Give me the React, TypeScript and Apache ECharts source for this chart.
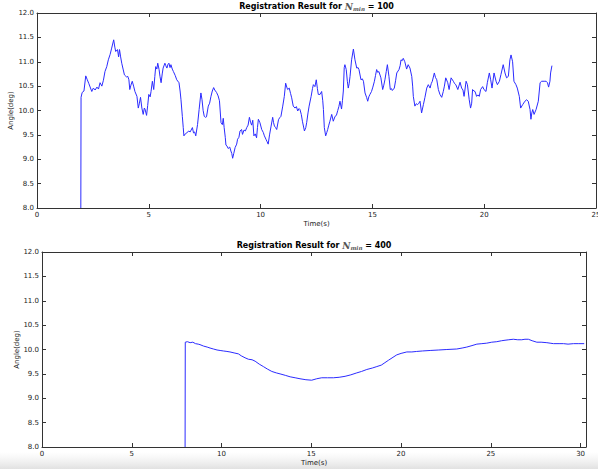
import React, { useEffect, useRef } from "react";
import * as echarts from "echarts";

// ---- Top panel (N_min = 100) ----
const topTime = [
  1.96, 1.97, 2.02, 2.1, 2.18, 2.25, 2.32, 2.45, 2.52, 2.6, 2.68, 2.75, 2.82, 2.9, 2.97, 3.04, 3.12, 3.19, 3.27, 3.34,
  3.43, 3.48, 3.52, 3.6, 3.65, 3.69, 3.74, 3.79, 3.85, 3.91, 4.0, 4.06, 4.11, 4.15, 4.2, 4.26, 4.32, 4.38, 4.47, 4.53,
  4.58, 4.63, 4.69, 4.75, 4.8, 4.83, 4.9, 4.95, 5.0, 5.06, 5.1, 5.16, 5.22, 5.27, 5.31, 5.36, 5.4, 5.46, 5.5, 5.55,
  5.6, 5.64, 5.72, 5.76, 5.81, 5.86, 5.9, 5.95, 5.99, 6.05, 6.1, 6.18, 6.25, 6.35, 6.4, 6.44, 6.5, 6.54, 6.57, 6.63,
  6.7, 6.78, 6.85, 6.95, 7.0, 7.05, 7.1, 7.18, 7.25, 7.33, 7.38, 7.43, 7.48, 7.53, 7.58, 7.66, 7.72, 7.78, 7.84, 7.9,
  7.95, 8.03, 8.1, 8.16, 8.23, 8.29, 8.33, 8.37, 8.42, 8.45, 8.5, 8.55, 8.62, 8.67, 8.71, 8.75, 8.8, 8.86, 8.93, 8.97,
  9.03, 9.08, 9.15, 9.19, 9.26, 9.32, 9.38, 9.44, 9.5, 9.55, 9.6, 9.65, 9.7, 9.76, 9.82, 9.86, 9.9, 9.97, 10.05, 10.12,
  10.17, 10.24, 10.29, 10.34, 10.4, 10.47, 10.54, 10.58, 10.62, 10.67, 10.72, 10.8, 10.85, 10.91, 10.99, 11.06, 11.12, 11.17, 11.21, 11.28,
  11.34, 11.39, 11.46, 11.54, 11.6, 11.66, 11.72, 11.76, 11.82, 11.87, 11.96, 12.02, 12.06, 12.12, 12.17, 12.26, 12.32, 12.36, 12.43, 12.49,
  12.54, 12.58, 12.66, 12.73, 12.78, 12.81, 12.85, 12.91, 12.96, 13.0, 13.05, 13.1, 13.18, 13.25, 13.33, 13.39, 13.45, 13.5, 13.55, 13.62,
  13.66, 13.7, 13.74, 13.77, 13.83, 13.88, 13.92, 13.96, 14.0, 14.07, 14.15, 14.22, 14.3, 14.36, 14.4, 14.49, 14.55, 14.6, 14.67, 14.74,
  14.79, 14.84, 14.89, 14.96, 15.02, 15.09, 15.14, 15.19, 15.24, 15.29, 15.38, 15.46, 15.51, 15.56, 15.62, 15.67, 15.74, 15.8, 15.85, 15.89,
  15.98, 16.04, 16.09, 16.19, 16.24, 16.28, 16.33, 16.38, 16.45, 16.53, 16.6, 16.68, 16.76, 16.8, 16.83, 16.9, 16.96, 17.02, 17.08, 17.13,
  17.2, 17.28, 17.35, 17.43, 17.5, 17.58, 17.63, 17.68, 17.77, 17.82, 17.88, 17.95, 18.02, 18.1, 18.17, 18.22, 18.28, 18.37, 18.43, 18.52,
  18.62, 18.68, 18.73, 18.82, 18.92, 18.99, 19.05, 19.1, 19.19, 19.25, 19.33, 19.39, 19.44, 19.48, 19.54, 19.59, 19.66, 19.72, 19.78, 19.84,
  19.93, 19.99, 20.08, 20.14, 20.23, 20.29, 20.35, 20.44, 20.53, 20.59, 20.68, 20.75, 20.85, 20.93, 21.0, 21.08, 21.15, 21.2, 21.27, 21.33,
  21.42, 21.48, 21.57, 21.63, 21.72, 21.82, 21.9, 21.97, 22.05, 22.09, 22.13, 22.17, 22.23, 22.32, 22.42, 22.5, 22.57, 22.68, 22.77, 22.83,
  22.88, 22.94, 22.97, 23.03,
];
const topAngle = [
  8.0, 10.27, 10.37, 10.4, 10.71, 10.63, 10.55, 10.39, 10.46, 10.42, 10.48, 10.44, 10.57, 10.5, 10.62, 10.8, 10.9, 11.04, 11.15, 11.28,
  11.45, 11.3, 11.21, 11.25, 11.1, 11.25, 11.1, 10.97, 10.85, 10.73, 10.69, 10.7, 10.63, 10.43, 10.52, 10.6, 10.5, 10.39, 10.29, 10.05,
  10.15, 10.27, 10.05, 9.92, 10.05, 10.03, 9.9, 10.1, 10.33, 10.28, 10.39, 10.6, 10.43, 10.7, 10.9, 10.85, 10.97, 10.84, 10.7, 10.57,
  10.75, 10.87, 10.97, 10.92, 10.87, 10.95, 10.97, 10.88, 10.94, 10.85, 10.8, 10.72, 10.63, 10.57, 10.4, 10.22, 9.88, 9.65, 9.48, 9.52,
  9.54, 9.58, 9.56, 9.65, 9.54, 9.56, 9.48, 9.71, 10.02, 10.36, 10.22, 10.0, 9.88, 9.86, 9.87, 10.09, 10.15, 10.29, 10.4, 10.47,
  10.42, 10.37, 10.3, 10.2, 9.75, 9.71, 9.84, 9.65, 9.45, 9.29, 9.27, 9.22, 9.25, 9.17, 9.12, 9.02, 9.12, 9.24, 9.31, 9.41,
  9.45, 9.58, 9.61, 9.51, 9.6, 9.58, 9.65, 9.7, 9.86, 9.76, 9.7, 9.8, 9.48, 9.52, 9.44, 9.65, 9.82, 9.75, 9.61, 9.55,
  9.48, 9.41, 9.36, 9.31, 9.5, 9.68, 9.86, 9.75, 9.68, 9.65, 9.61, 9.81, 9.85, 9.88, 10.09, 10.29, 10.56, 10.48, 10.43, 10.46,
  10.35, 10.26, 10.09, 10.05, 10.08, 9.99, 10.04, 10.02, 9.92, 9.78, 9.58, 9.65, 9.75, 9.95, 10.09, 10.29, 10.45, 10.53, 10.49, 10.63,
  10.45, 10.33, 10.33, 10.39, 10.2, 10.02, 9.65, 9.48, 9.55, 9.61, 9.7, 9.78, 9.92, 9.78, 9.88, 9.9, 10.0, 10.08, 10.19, 10.03,
  10.2, 10.4, 10.88, 10.94, 10.84, 10.6, 10.46, 10.55, 10.7, 11.04, 11.26, 11.04, 10.87, 10.88, 10.84, 10.63, 10.65, 10.6, 10.36, 10.27,
  10.19, 10.28, 10.33, 10.39, 10.48, 10.6, 10.72, 10.84, 10.78, 10.8, 10.67, 10.43, 10.52, 10.63, 10.8, 10.94, 10.7, 10.43, 10.45, 10.41,
  10.46, 10.62, 10.77, 10.84, 10.92, 11.04, 11.02, 11.07, 11.0, 10.85, 10.94, 10.87, 10.7, 10.5, 10.29, 10.09, 10.14, 10.12, 10.15, 10.19,
  9.95, 10.12, 10.27, 10.46, 10.53, 10.46, 10.55, 10.6, 10.77, 10.68, 10.63, 10.43, 10.33, 10.27, 10.39, 10.5, 10.67, 10.57, 10.43, 10.67,
  10.6, 10.55, 10.53, 10.43, 10.58, 10.46, 10.42, 10.29, 10.6, 10.53, 10.22, 10.05, 10.15, 10.43, 10.4, 10.39, 10.29, 10.32, 10.29, 10.43,
  10.49, 10.43, 10.39, 10.57, 10.77, 10.63, 10.46, 10.77, 10.6, 10.53, 10.6, 10.74, 10.94, 10.77, 10.67, 10.7, 11.04, 11.14, 11.0, 10.6,
  10.53, 10.46, 10.29, 10.05, 10.12, 10.19, 10.22, 10.19, 10.02, 9.82, 9.95, 10.02, 9.92, 10.02, 10.19, 10.57, 10.6, 10.6, 10.6, 10.57,
  10.48, 10.6, 10.77, 10.92,
];

// ---- Bottom panel (N_min = 400) ----
const bottomTime = [
  7.97, 7.98, 8.1, 8.25, 8.4, 8.55, 8.7, 8.8, 9.0, 9.2, 9.36, 9.55, 9.75, 9.92, 10.1, 10.3, 10.47, 10.7, 10.94, 11.1,
  11.31, 11.5, 11.7, 11.87, 12.1, 12.33, 12.55, 12.8, 13.05, 13.26, 13.55, 13.82, 14.1, 14.37, 14.7, 15.02, 15.3, 15.58, 15.9, 16.23,
  16.55, 16.88, 17.2, 17.53, 17.8, 18.09, 18.4, 18.65, 18.9, 19.1, 19.3, 19.55, 19.76, 20.0, 20.32, 20.6, 20.87, 21.2, 21.62, 22.1,
  22.55, 23.1, 23.4, 23.66, 23.95, 24.22, 24.5, 24.77, 25.05, 25.33, 25.6, 25.79, 26.0, 26.25, 26.5, 26.72, 26.9, 27.09, 27.3, 27.56,
  27.8, 28.12, 28.3, 28.49, 28.8, 29.05, 29.3, 29.6, 29.9, 30.2,
];
const bottomAngle = [
  8.0, 10.15, 10.16, 10.14, 10.15, 10.12, 10.11, 10.1, 10.07, 10.05, 10.03, 10.01, 9.99, 9.98, 9.97, 9.96, 9.95, 9.93, 9.91, 9.87,
  9.83, 9.8, 9.79, 9.76, 9.7, 9.65, 9.6, 9.55, 9.52, 9.5, 9.47, 9.44, 9.42, 9.4, 9.38, 9.37, 9.4, 9.42, 9.42, 9.42,
  9.43, 9.45, 9.48, 9.52, 9.55, 9.59, 9.62, 9.65, 9.68, 9.73, 9.78, 9.84, 9.89, 9.92, 9.95, 9.95, 9.96, 9.97, 9.98, 9.99,
  10.0, 10.01, 10.03, 10.05, 10.08, 10.11, 10.12, 10.13, 10.15, 10.16, 10.18, 10.19, 10.2, 10.21, 10.2, 10.2, 10.21, 10.21, 10.18, 10.15,
  10.15, 10.14, 10.13, 10.12, 10.12, 10.12, 10.11, 10.12, 10.12, 10.12,
];

const titles = ["100", "400"];
const xLabel = "Time(s)";
const yLabel = "Angle(deg)";

const FONT = "DejaVu Sans";
const AXIS_COLOR = "#333";
const LINE_COLOR = "#2b2bff";

function xAxes(gridIndex: number, max: number) {
  const common = {
    type: "value" as const,
    gridIndex,
    min: 0,
    max,
    interval: 5,
    splitLine: { show: false },
    axisLine: { show: true, onZero: false, lineStyle: { color: AXIS_COLOR, width: 1 } },
    axisTick: { show: true, inside: true, length: 4, lineStyle: { color: AXIS_COLOR } },
  };
  return [
    {
      ...common,
      position: "bottom",
      name: xLabel,
      nameLocation: "middle",
      nameGap: 12,
      nameMoveOverlap: false,
      nameTextStyle: { fontFamily: FONT, fontSize: 7, color: "#222" },
      axisLabel: {
        show: true,
        fontFamily: FONT,
        fontSize: 7,
        color: "#222",
        margin: 3,
        hideOverlap: false,
        formatter: (v: number) => (Math.abs(v % 5) < 1e-9 ? String(v) : ""),
      },
    },
    { ...common, position: "top", axisLabel: { show: false }, name: "" },
  ];
}

function yAxes(gridIndex: number, nameGap: number) {
  const common = {
    type: "value" as const,
    gridIndex,
    min: 8,
    max: 12,
    interval: 0.5,
    splitLine: { show: false },
    axisLine: { show: true, onZero: false, lineStyle: { color: AXIS_COLOR, width: 1 } },
    axisTick: { show: true, inside: true, length: 4, lineStyle: { color: AXIS_COLOR } },
  };
  return [
    {
      ...common,
      position: "left",
      name: yLabel,
      nameLocation: "middle",
      nameGap,
      nameMoveOverlap: false,
      nameTextStyle: { fontFamily: FONT, fontSize: 7, color: "#222" },
      axisLabel: {
        show: true,
        fontFamily: FONT,
        fontSize: 7,
        color: "#222",
        margin: 3,
        formatter: (v: number) => v.toFixed(1),
      },
    },
    { ...common, position: "right", axisLabel: { show: false } },
  ];
}

function titleOpt(n: string, left: number, top: number) {
  return {
    text: `{b|Registration Result for }{n|N}{s|min}{b| = ${n}}`,
    left,
    top,
    textAlign: "center",
    padding: 0,
    textStyle: {
      rich: {
        b: { fontFamily: FONT, fontWeight: "bold", fontSize: 8, color: "#000" },
        n: { fontFamily: "DejaVu Serif", fontStyle: "italic", fontSize: 9, color: "#555" },
        s: { fontFamily: "DejaVu Serif", fontStyle: "italic", fontSize: 5.5, color: "#555", padding: [5, 0, 0, 0] },
      },
    },
  };
}

export default function App() {
  const ref = useRef<HTMLDivElement>(null);
  useEffect(() => {
    if (!ref.current) return;
    const chart = echarts.init(ref.current, undefined, { renderer: "svg" });
    const topData = topTime.map((t, i) => [t, topAngle[i]]);
    const bottomData = bottomTime.map((t, i) => [t, bottomAngle[i]]);
    chart.setOption({
      animation: false,
      backgroundColor: "#fff",
      title: [titleOpt(titles[0], 316.5, 1), titleOpt(titles[1], 314, 240)],
      grid: [
        { left: 37, top: 13, width: 559, height: 195, outerBoundsMode: "none", containLabel: false },
        { left: 42, top: 252, width: 544, height: 195, outerBoundsMode: "none", containLabel: false },
      ],
      xAxis: [...xAxes(0, 25), ...xAxes(1, 30.3)],
      yAxis: [...yAxes(0, 23), ...yAxes(1, 22)],
      graphic: [
        {
          type: "rect",
          z: -10,
          silent: true,
          shape: { x: 0, y: 452, width: 598, height: 17 },
          style: {
            fill: new echarts.graphic.LinearGradient(0, 0, 0, 1, [
              { offset: 0, color: "rgba(235,235,235,0)" },
              { offset: 1, color: "rgba(225,225,225,1)" },
            ]),
          },
        },
      ],
      series: [
        {
          type: "line",
          xAxisIndex: 0,
          yAxisIndex: 0,
          data: topData,
          showSymbol: false,
          symbol: "none",
          lineStyle: { color: LINE_COLOR, width: 1 },
        },
        {
          type: "line",
          xAxisIndex: 2,
          yAxisIndex: 2,
          data: bottomData,
          showSymbol: false,
          symbol: "none",
          lineStyle: { color: LINE_COLOR, width: 1 },
        },
      ],
    });
    return () => chart.dispose();
  }, []);
  return (
    <div
      ref={ref}
      style={{ position: "fixed", left: 0, top: 0, width: 598, height: 469, background: "#fff" }}
    />
  );
}
